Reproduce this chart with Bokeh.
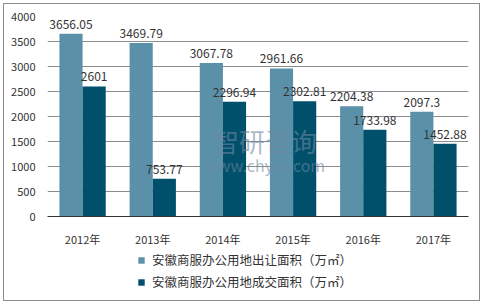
from bokeh.plotting import figure
from bokeh.layouts import column
from bokeh.models import ColumnDataSource, Legend, LegendItem, Label, FixedTicker, Range1d, FactorRange
from bokeh.transform import dodge
from bokeh.embed import file_html
from bokeh.resources import INLINE
from bokeh.core.properties import value

years = ["2012年", "2013年", "2014年", "2015年", "2016年", "2017年"]
sold = [3656.05, 3469.79, 3067.78, 2961.66, 2204.38, 2097.3]
deal = [2601, 753.77, 2296.94, 2302.81, 1733.98, 1452.88]
sold_labels = ["3656.05", "3469.79", "3067.78", "2961.66", "2204.38", "2097.3"]
deal_labels = ["2601", "753.77", "2296.94", "2302.81", "1733.98", "1452.88"]
series_names = ["安徽商服办公用地出让面积（万㎡）", "安徽商服办公用地成交面积（万㎡）"]
y_ticks = [0, 500, 1000, 1500, 2000, 2500, 3000, 3500, 4000]

FONT = "Noto Sans CJK SC"
C1 = "#5B91A8"
C2 = "#00506B"

src = ColumnDataSource(dict(years=years, sold=sold, deal=deal,
                            sl=sold_labels, dl=deal_labels))

p = figure(width=478, height=246, x_range=FactorRange(*years, range_padding=0),
           y_range=Range1d(0, 4000), output_backend="svg", toolbar_location=None,
           min_border_left=44, min_border_right=13, min_border_top=13, min_border_bottom=26)
p.outline_line_color = None
p.background_fill_color = "white"
p.border_fill_color = "white"

r1 = p.vbar(x=dodge("years", -0.165, range=p.x_range), top="sold", width=0.33, source=src,
            fill_color=C1, line_color=None)
r2 = p.vbar(x=dodge("years", 0.165, range=p.x_range), top="deal", width=0.33, source=src,
            fill_color=C2, line_color=None)

p.text(x=dodge("years", -0.165, range=p.x_range), y="sold", text="sl", source=src,
       text_align="center", text_baseline="bottom", y_offset=-5,
       text_font=value(FONT), text_font_size="12px", text_color="#333333")
p.text(x=dodge("years", 0.165, range=p.x_range), y="deal", text="dl", source=src,
       text_align="center", text_baseline="bottom", y_offset=-5,
       text_font=value(FONT), text_font_size="12px", text_color="#333333")

# watermark
p.add_layout(Label(x=3.1, y=1530, text="智研咨询", text_align="center", text_baseline="middle",
                   text_font=FONT, text_font_size="26px", text_color="#6F87A0", text_alpha=0.6))
p.add_layout(Label(x=3.1, y=1040, text="www.chyxx.com", text_align="center", text_baseline="middle",
                   text_font=FONT, text_font_size="16px", text_color="#6F87A0", text_alpha=0.6))

p.yaxis.ticker = FixedTicker(ticks=y_ticks)
p.yaxis.axis_line_color = None
p.yaxis.major_tick_line_color = None
p.yaxis.minor_tick_line_color = None
p.yaxis.major_label_text_font = FONT
p.yaxis.major_label_text_font_size = "11px"
p.yaxis.major_label_text_color = "#333333"
p.yaxis.major_label_standoff = 6

p.xaxis.axis_line_color = "#333333"
p.xaxis.axis_line_width = 1
p.xaxis.major_tick_line_color = None
p.xaxis.minor_tick_line_color = None
p.xaxis.major_label_text_font = FONT
p.xaxis.major_label_text_font_size = "11px"
p.xaxis.major_label_text_color = "#333333"
p.xaxis.major_label_standoff = 8

p.xgrid.grid_line_color = None
p.ygrid.grid_line_color = "#8C8C8C"
p.ygrid.grid_line_width = 1

# legend panel
q = figure(width=478, height=52, x_range=Range1d(0, 1), y_range=Range1d(0, 1),
           output_backend="svg", toolbar_location=None,
           x_axis_location=None, y_axis_location=None, min_border=0)
q.grid.grid_line_color = None
q.outline_line_color = None
lsrc = ColumnDataSource(dict(x=[-5], top=[0]))
g1 = q.vbar(x="x", top="top", width=0.1, source=lsrc, fill_color=C1, line_color=None)
g2 = q.vbar(x="x", top="top", width=0.1, source=lsrc, fill_color=C2, line_color=None)
legend = Legend(items=[LegendItem(label=series_names[0], renderers=[g1]),
                       LegendItem(label=series_names[1], renderers=[g2])],
                location=(90, 10), orientation="vertical",
                label_text_font=FONT, label_text_font_size="12.5px", label_text_color="#333333",
                label_height=14,
                glyph_width=8, glyph_height=8, spacing=3, padding=0, margin=0,
                background_fill_alpha=0, border_line_color=None, label_standoff=7)
q.add_layout(legend, "center")

layout = column(p, q, spacing=0)
layout.styles = {"margin": "3px"}

html = file_html(layout, INLINE)
html = html.replace("<body>", "<body style='margin:0'><div style='position:absolute;left:3px;top:3px;width:477px;height:298px;border:1px solid #8C8C8C;box-sizing:border-box;pointer-events:none;z-index:10'></div>")
open("out.html", "w").write(html)
